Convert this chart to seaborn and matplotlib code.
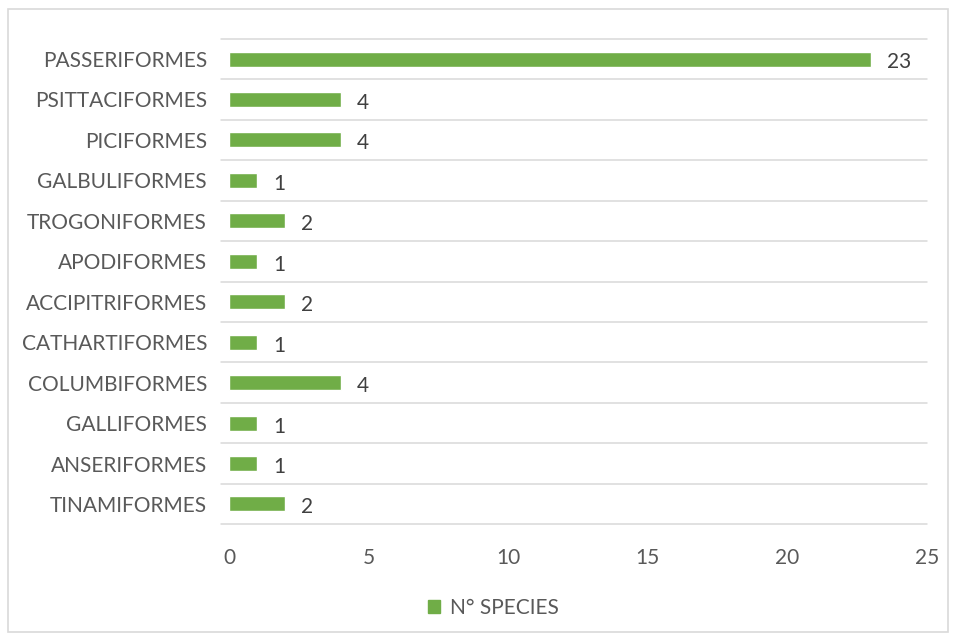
import matplotlib
matplotlib.use("Agg")
import matplotlib.pyplot as plt
from matplotlib.patches import Patch, Rectangle
import seaborn as sns
import pandas as pd

orders = ["PASSERIFORMES", "PSITTACIFORMES", "PICIFORMES", "GALBULIFORMES",
          "TROGONIFORMES", "APODIFORMES", "ACCIPITRIFORMES", "CATHARTIFORMES",
          "COLUMBIFORMES", "GALLIFORMES", "ANSERIFORMES", "TINAMIFORMES"]
species = [23, 4, 4, 1, 2, 1, 2, 1, 4, 1, 1, 2]
xticks = [0, 5, 10, 15, 20, 25]
series_name = "N° SPECIES"

df = pd.DataFrame({"order": orders, "n": species})

sns.set_style("white")
plt.rcParams['font.family'] = ['Lato', 'DejaVu Sans']

W, H = 956, 639
fig = plt.figure(figsize=(W / 100, H / 100), dpi=100)
ax = fig.add_axes([221 / W, 1 - 524.2 / H, (927 - 221) / W, (524.2 - 38.8) / H])

green = "#70AD47"
txt = "#595959"
grid = "#D9D9D9"
fs = 15

sns.barplot(data=df, x="n", y="order", orient="h", color=green, width=0.37,
            ax=ax, saturation=1)

ax.set_xlim(-0.287, 25)
ax.set_ylim(len(orders) - 0.5, -0.5)
for b in [i - 0.5 for i in range(len(orders) + 1)]:
    ax.axhline(b, color=grid, lw=1.1, zorder=0, clip_on=False)

for s in ax.spines.values():
    s.set_visible(False)
ax.set_xticks(xticks)
ax.set_xticklabels([str(t) for t in xticks])
ax.tick_params(axis="x", length=0, pad=17, labelsize=fs, colors=txt)
ax.tick_params(axis="y", length=0, pad=10, labelsize=fs, colors=txt)
ax.set_xlabel("")
ax.set_ylabel("")

for i, v in enumerate(species):
    ax.annotate(str(v), xy=(v, i), xytext=(11.5, -2.5), textcoords="offset points",
                ha="left", va="center", fontsize=fs, color="#404040")

fig.legend(handles=[Patch(color=green, label=series_name)], loc="center",
           bbox_to_anchor=(493 / W, 1 - 608 / H), frameon=False,
           handlelength=0.6, handleheight=0.6, handletextpad=0.45,
           prop={"size": fs}, labelcolor=txt)

fig.patches.append(Rectangle((8 / W, 1 - 632 / H), 940 / W, 623 / H,
                             transform=fig.transFigure, fill=False,
                             edgecolor=grid, lw=1.2))

fig.savefig("out.png", dpi=100)
